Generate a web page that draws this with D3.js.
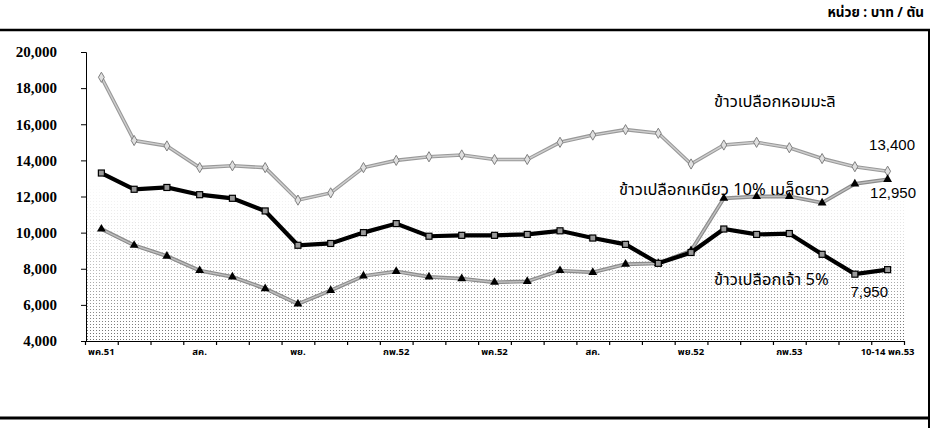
<!DOCTYPE html>
<html>
<head>
<meta charset="utf-8">
<script src="https://cdn.jsdelivr.net/npm/d3@7"></script>
<style>
  body { margin: 0; background: #fff; }
  .y-axis text { font-family: "Liberation Serif", serif; font-weight: bold; font-size: 15px; fill: #000; }
  .x-label { font-family: Tahoma, "Noto Sans Thai", "Loma", "Garuda", sans-serif; font-weight: bold; font-size: 9.5px; fill: #000; }
  .series-label { font-family: Tahoma, "Noto Sans Thai", "Loma", "Garuda", sans-serif; font-size: 16.5px; fill: #000; }
  .value-label { font-family: "Liberation Sans", Arial, sans-serif; font-size: 15px; fill: #000; }
  .unit { font-family: Tahoma, "Noto Sans Thai", "Loma", "Garuda", sans-serif; font-weight: bold; font-size: 13.5px; fill: #000; }
</style>
</head>
<body>
<div class="chart"></div>
<script>
// monthly categories, May 2008 .. 10-14 May 2010
const months = ['พค.51', 'มิย.51', 'กค.51', 'สค.51', 'กย.51', 'ตค.51', 'พย.51', 'ธค.51',
  'มค.52', 'กพ.52', 'มีค.52', 'เมย.52', 'พค.52', 'มิย.52', 'กค.52', 'สค.52', 'กย.52',
  'ตค.52', 'พย.52', 'ธค.52', 'มค.53', 'กพ.53', 'มีค.53', 'เมย.53', '10-14 พค.53'];

// shown under every third month
const tickLabels = ['พค.51', 'สค.', 'พย.', 'กพ.52', 'พค.52', 'สค.', 'พย.52', 'กพ.53', '10-14 พค.53'];

const yTicks = [4000, 6000, 8000, 10000, 12000, 14000, 16000, 18000, 20000];

// baht / ton
const homMali = [18600, 15100, 14800, 13600, 13700, 13600, 11800, 12200, 13600, 14000,
  14200, 14300, 14050, 14050, 15000, 15400, 15700, 15500, 13800, 14850, 15000, 14700,
  14100, 13650, 13400];
const jao5 = [13300, 12400, 12500, 12100, 11900, 11200, 9300, 9400, 10000, 10500,
  9800, 9850, 9850, 9900, 10100, 9700, 9350, 8300, 8900, 10200, 9900, 9950,
  8800, 7700, 7950];
const niao10 = [10200, 9300, 8700, 7900, 7550, 6900, 6050, 6800, 7600, 7850,
  7550, 7450, 7250, 7300, 7900, 7800, 8250, 8300, 9000, 11900, 12000, 12000,
  11650, 12700, 12950];

const width = 932, height = 428;
const plotLeft = 86, plotRight = 904, plotTop = 52, plotBottom = 341;

let svg = d3.select(".chart").append("svg")
  .attr("width", width)
  .attr("height", height);

// x boundaries between months, points sit in the middle
let xb = d3.scaleLinear().domain([0, months.length]).range([plotLeft - 1, plotRight]);
let x = i => xb(i + 0.5);
let y = d3.scaleLinear().domain([4000, 20000]).range([plotBottom, plotTop]);

// stippled lower part of the plot
let defs = svg.append("defs");
let pat = defs.append("pattern")
  .attr("id", "dots")
  .attr("width", 3).attr("height", 3)
  .attr("patternUnits", "userSpaceOnUse");
pat.append("rect").attr("width", 1).attr("height", 1).attr("fill", "#555");

let grad = defs.append("linearGradient")
  .attr("id", "fade")
  .attr("gradientUnits", "userSpaceOnUse")
  .attr("x1", 0).attr("x2", 0)
  .attr("y1", 180).attr("y2", plotBottom);
grad.append("stop").attr("offset", "0%").attr("stop-color", "#000");
grad.append("stop").attr("offset", "35%").attr("stop-color", "#333");
grad.append("stop").attr("offset", "100%").attr("stop-color", "#ddd");

let mask = defs.append("mask").attr("id", "fadeMask");
mask.append("rect")
  .attr("x", plotLeft).attr("y", 180)
  .attr("width", plotRight - plotLeft).attr("height", plotBottom - 180)
  .attr("fill", "url(#fade)");

svg.append("rect")
  .attr("x", plotLeft).attr("y", 180)
  .attr("width", plotRight - plotLeft).attr("height", plotBottom - 180)
  .attr("fill", "url(#dots)")
  .attr("mask", "url(#fadeMask)");

// frame
svg.append("line").attr("x1", 0).attr("x2", 930).attr("y1", 30).attr("y2", 30)
  .attr("stroke", "#000").attr("stroke-width", 2.5);
svg.append("line").attr("x1", 929).attr("x2", 929).attr("y1", 30).attr("y2", height)
  .attr("stroke", "#000").attr("stroke-width", 2);
svg.append("line").attr("x1", 0).attr("x2", 930).attr("y1", 418).attr("y2", 418)
  .attr("stroke", "#000").attr("stroke-width", 3);

svg.append("text")
  .classed("unit", true)
  .attr("x", 924).attr("y", 17)
  .attr("text-anchor", "end")
  .text("หน่วย : บาท / ตัน");

// axes
let yAxis = svg.append("g")
  .classed("y-axis", true)
  .attr("transform", `translate(${plotLeft},0)`)
  .call(d3.axisLeft(y).tickValues(yTicks).tickFormat(d3.format(",")).tickSize(5).tickPadding(24));
yAxis.selectAll("line, path").attr("stroke", "#000");

let xAxis = svg.append("g")
  .attr("transform", `translate(0,${plotBottom})`)
  .call(d3.axisBottom(xb).tickValues(d3.range(months.length + 1)).tickFormat("").tickSize(4).tickSizeOuter(0));
xAxis.selectAll("line, path").attr("stroke", "#000").attr("stroke-width", 1.2);

svg.append("g")
  .selectAll("text")
  .data(tickLabels)
  .join("text")
  .classed("x-label", true)
  .attr("x", (_, i) => x(i * 3))
  .attr("y", 355)
  .attr("text-anchor", "middle")
  .text(d => d);

let line = d3.line().x((_, i) => x(i)).y(d => y(d));

// hom mali - light gray with small diamonds
svg.append("path").datum(homMali).attr("d", line)
  .attr("fill", "none").attr("stroke", "#999").attr("stroke-width", 3.6);
svg.append("path").datum(homMali).attr("d", line)
  .attr("fill", "none").attr("stroke", "#cfcfcf").attr("stroke-width", 1.4);
svg.append("g").selectAll("path")
  .data(homMali)
  .join("path")
  .attr("d", d3.symbol(d3.symbolDiamond, 30))
  .attr("transform", (d, i) => `translate(${x(i)},${y(d)})`)
  .attr("fill", "#e0e0e0").attr("stroke", "#808080").attr("stroke-width", 1);

// glutinous 10% - gray with black triangles
svg.append("path").datum(niao10).attr("d", line)
  .attr("fill", "none").attr("stroke", "#8c8c8c").attr("stroke-width", 3.8);
svg.append("path").datum(niao10).attr("d", line)
  .attr("fill", "none").attr("stroke", "#c0c0c0").attr("stroke-width", 1.4);
svg.append("g").selectAll("path")
  .data(niao10)
  .join("path")
  .attr("d", d3.symbol(d3.symbolTriangle, 34))
  .attr("transform", (d, i) => `translate(${x(i)},${y(d)})`)
  .attr("fill", "#000");

// jao 5% - black with square markers
svg.append("path").datum(jao5).attr("d", line)
  .attr("fill", "none").attr("stroke", "#000").attr("stroke-width", 4.2);
svg.append("g").selectAll("rect")
  .data(jao5)
  .join("rect")
  .attr("x", (d, i) => x(i) - 3).attr("y", d => y(d) - 3)
  .attr("width", 6).attr("height", 6)
  .attr("fill", "#999").attr("stroke", "#000").attr("stroke-width", 1.2);

// series names and last values
const last = months.length - 1;
svg.append("text").classed("series-label", true)
  .attr("x", 714).attr("y", 107).text("ข้าวเปลือกหอมมะลิ");
svg.append("text").classed("value-label", true)
  .attr("x", 915).attr("y", y(homMali[last]) - 21).attr("text-anchor", "end")
  .text(d3.format(",")(homMali[last]));
svg.append("text").classed("series-label", true)
  .attr("x", 619).attr("y", 195).text("ข้าวเปลือกเหนียว 10% เมล็ดยาว");
svg.append("text").classed("value-label", true)
  .attr("x", 916).attr("y", y(niao10[last]) + 19).attr("text-anchor", "end")
  .text(d3.format(",")(niao10[last]));
svg.append("text").classed("series-label", true)
  .attr("x", 714).attr("y", 285).text("ข้าวเปลือกเจ้า 5%");
svg.append("text").classed("value-label", true)
  .attr("x", 888).attr("y", y(jao5[last]) + 27).attr("text-anchor", "end")
  .text(d3.format(",")(jao5[last]));
</script>
</body>
</html>
